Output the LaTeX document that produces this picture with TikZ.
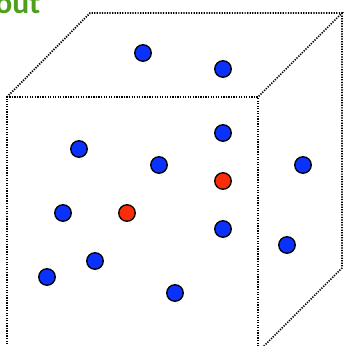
\documentclass[tikz,border=0pt]{standalone}
\usepackage{fontspec}
\setsansfont{Carlito}
\definecolor{ptblue}{RGB}{10,50,250}
\definecolor{ptred}{RGB}{250,45,10}
\definecolor{titlegreen}{RGB}{78,160,28}
\tikzset{
	edge/.style={line width=1pt,dash pattern=on 0.7pt off 0.75pt,draw=black},
	blueatom/.style={circle,draw=black,line width=0.75pt,fill=ptblue,
		minimum size=0.33cm,inner sep=0pt},
	redatom/.style={circle,draw=black,line width=0.75pt,fill=ptred,
		minimum size=0.33cm,inner sep=0pt},
}
\begin{document}
\begin{tikzpicture}[x=0.02cm,y=-0.02cm]
		\useasboundingbox (0,0) rectangle (346,346);
		\clip (0,0) rectangle (346,346);
		\node[anchor=base west,inner sep=0pt,font=\sffamily\bfseries\fontsize{18}{18}\selectfont,
		text=titlegreen] (title) at (-5,13) {out};
		
		% box corners
		\coordinate (ftl) at (7,97);
		\coordinate (ftr) at (258,97);
		\coordinate (fbl) at (7,352);
		\coordinate (fbr) at (258,352);
		\coordinate (btl) at (90,13);
		\coordinate (btr) at (342,13);
		\coordinate (bbr) at (342,268);
		\draw[edge] (fbl) -- (ftl) -- (ftr) -- (fbr);
		\draw[edge] (ftl) -- (btl) -- (btr) -- (ftr);
		\draw[edge] (btr) -- (bbr) -- (fbr);
		
		% particles
		\node[blueatom] (a1) at (143,53) {};
		\node[blueatom] (a2) at (223,69) {};
		\node[blueatom] (a3) at (79,149) {};
		\node[blueatom] (a4) at (159,165) {};
		\node[blueatom] (a5) at (223,133) {};
		\node[redatom] (a6) at (223,181) {};
		\node[blueatom] (a7) at (303,165) {};
		\node[blueatom] (a8) at (63,213) {};
		\node[redatom] (a9) at (127,213) {};
		\node[blueatom] (a10) at (223,229) {};
		\node[blueatom] (a11) at (287,245) {};
		\node[blueatom] (a12) at (95,261) {};
		\node[blueatom] (a13) at (47,277) {};
		\node[blueatom] (a14) at (175,293) {};
	\end{tikzpicture}
\end{document}
